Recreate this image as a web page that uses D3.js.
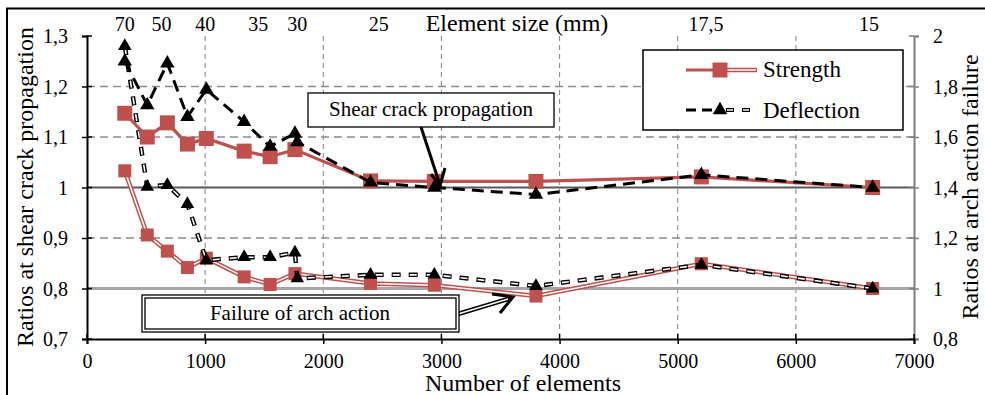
<!DOCTYPE html>
<html lang="en">
<head>
  <meta charset="UTF-8">
  <title>Ratios vs number of elements</title>
  <style>
    body { margin: 0; background: #fff; }
    text { font-family: "Liberation Serif", "Times New Roman", serif; fill: #000; }
  </style>
</head>
<body>
<script src="https://cdn.jsdelivr.net/npm/d3@7"></script>
<script>
  // data
  var elements = [320, 510, 680, 850, 1010, 1330, 1550, 1760, 2400, 2940, 3800, 5200, 6650];
  var strengthShear = [1.147, 1.100, 1.128, 1.086, 1.097, 1.072, 1.061, 1.075, 1.013, 1.012, 1.012, 1.021, 1.000];
  var strengthArch = [1.466, 1.212, 1.148, 1.083, 1.120, 1.046, 1.016, 1.059, 1.020, 1.013, 0.970, 1.098, 1.000];

  var deflElements = [320, 510, 680, 850, 1010, 1330, 1550, 1760, 1780, 2400, 2940, 3800, 5200, 6650];
  var deflShear = [1.250, 1.163, 1.246, 1.140, 1.194, 1.130, 1.081, 1.107, 1.090, 1.010, 1.000, 0.986, 1.025, 1.000];
  var deflArch = [1.960, 1.403, 1.410, 1.334, 1.112, 1.124, 1.124, 1.142, 1.040, 1.054, 1.054, 1.010, 1.094, 1.000];

  var sizeLabels = ['70', '50', '40', '35', '30', '25', '17,5', '15'];
  var sizeAt = [320, 630, 1000, 1450, 1780, 2470, 5240, 6620];

  var leftTicks = [0.7, 0.8, 0.9, 1.0, 1.1, 1.2, 1.3];
  var rightTicks = [0.8, 1.0, 1.2, 1.4, 1.6, 1.8, 2.0];
  var bottomTicks = [0, 1000, 2000, 3000, 4000, 5000, 6000, 7000];

  var red = '#c0504d';
  var W = 985, H = 395;

  var svg = d3.select('body').append('svg').attr('width', W).attr('height', H);

  var x = d3.scaleLinear().domain([0, 7000]).range([87, 914]);
  var yL = d3.scaleLinear().domain([0.7, 1.3]).range([339, 36]);
  var yR = d3.scaleLinear().domain([0.8, 2]).range([339, 36]);

  var comma = function (d) { return String(+d.toFixed(2)).replace('.', ','); };

  // outer frame
  svg.append('rect').attr('x', 7).attr('y', 8.5).attr('width', 1000).attr('height', 420)
    .attr('fill', 'none').attr('stroke', '#000').attr('stroke-width', 2);

  // grid
  svg.append('g').selectAll('line').data([0.9, 1.1, 1.2]).enter().append('line')
    .attr('x1', x(0)).attr('x2', x(7000))
    .attr('y1', function (d) { return yL(d); }).attr('y2', function (d) { return yL(d); })
    .attr('stroke', '#8c8c8c').attr('stroke-width', 1.3).attr('stroke-dasharray', '8,5');
  svg.append('g').selectAll('line').data([1000, 2000, 3000, 4000, 5000, 6000]).enter().append('line')
    .attr('x1', function (d) { return x(d); }).attr('x2', function (d) { return x(d); })
    .attr('y1', yL(1.3)).attr('y2', yL(0.7))
    .attr('stroke', '#8c8c8c').attr('stroke-width', 1.1).attr('stroke-dasharray', '5,4');

  // reference lines
  svg.append('line').attr('x1', x(0)).attr('x2', x(7000)).attr('y1', yL(1)).attr('y2', yL(1))
    .attr('stroke', '#595959').attr('stroke-width', 2);
  svg.append('line').attr('x1', x(0)).attr('x2', x(7000)).attr('y1', yL(0.8)).attr('y2', yL(0.8))
    .attr('stroke', '#a6a6a6').attr('stroke-width', 3);

  // axes
  function styleAxis(g, color) {
    g.select('.domain').attr('stroke', color).attr('stroke-width', 2);
    g.selectAll('.tick line').attr('stroke', color).attr('stroke-width', 1.5);
    g.selectAll('text').style('font-size', '20px').style('font-family', '"Liberation Serif", serif').attr('fill', '#000');
  }

  var gl = svg.append('g').attr('transform', 'translate(' + x(0) + ',0)');
  gl.call(d3.axisLeft(yL).tickValues(d3.range(0.7, 1.301, 0.02)).tickSize(-5).tickFormat(''));
  gl.call(d3.axisLeft(yL).tickValues(leftTicks).tickSize(5).tickPadding(14).tickFormat(comma));
  gl.call(function (g) { styleAxis(g, '#000'); });
  gl.selectAll('.tick text').attr('dy', '0.33em');
  gl.append('g').selectAll('line').data(leftTicks).enter().append('line')
    .attr('x1', 0).attr('x2', 5).attr('y1', function (d) { return yL(d); }).attr('y2', function (d) { return yL(d); })
    .attr('stroke', '#000').attr('stroke-width', 1.5);

  var gr = svg.append('g').attr('transform', 'translate(' + x(7000) + ',0)');
  gr.call(d3.axisRight(yR).tickValues(d3.range(0.8, 2.001, 0.04)).tickSize(-5).tickFormat(''));
  gr.call(d3.axisRight(yR).tickValues(rightTicks).tickSize(5).tickPadding(14).tickFormat(comma));
  gr.call(function (g) { styleAxis(g, '#7f7f7f'); });
  gr.selectAll('.tick text').attr('dy', '0.33em');
  gr.append('g').selectAll('line').data(rightTicks).enter().append('line')
    .attr('x1', -5).attr('x2', 0).attr('y1', function (d) { return yR(d); }).attr('y2', function (d) { return yR(d); })
    .attr('stroke', '#7f7f7f').attr('stroke-width', 1.5);

  var gb = svg.append('g').attr('transform', 'translate(0,' + yL(0.7) + ')');
  gb.call(d3.axisBottom(x).tickValues(d3.range(0, 7001, 200)).tickSize(-5).tickFormat(''));
  gb.call(d3.axisBottom(x).tickValues(bottomTicks).tickSize(5).tickPadding(10).tickFormat(d3.format('d')));
  gb.call(function (g) { styleAxis(g, '#000'); });
  gb.append('g').selectAll('line').data(bottomTicks).enter().append('line')
    .attr('x1', function (d) { return x(d); }).attr('x2', function (d) { return x(d); })
    .attr('y1', -5).attr('y2', 0).attr('stroke', '#000').attr('stroke-width', 1.5);

  // top labels (element size)
  svg.append('g').selectAll('text').data(sizeLabels).enter().append('text')
    .attr('x', function (d, i) { return x(sizeAt[i]); }).attr('y', 31)
    .attr('text-anchor', 'middle').style('font-size', '20px')
    .text(function (d) { return d; });
  svg.append('text').attr('x', 517).attr('y', 31).attr('text-anchor', 'middle')
    .style('font-size', '24px').text('Element size (mm)');

  // axis titles
  svg.append('text').attr('x', 523).attr('y', 391).attr('text-anchor', 'middle')
    .style('font-size', '24px').text('Number of elements');
  svg.append('text').attr('transform', 'translate(33,187) rotate(-90)').attr('text-anchor', 'middle')
    .style('font-size', '24px').text('Ratios at shear crack propagation');
  svg.append('text').attr('transform', 'translate(978,187) rotate(-90)').attr('text-anchor', 'middle')
    .style('font-size', '24px').text('Ratios at arch action failure');

  // series
  function pts(xs, ys) { return xs.map(function (v, i) { return [v, ys[i]]; }); }
  var lineL = d3.line().x(function (d) { return x(d[0]); }).y(function (d) { return yL(d[1]); });
  var lineR = d3.line().x(function (d) { return x(d[0]); }).y(function (d) { return yR(d[1]); });
  var tri = function (s) { return d3.symbol().type(d3.symbolTriangle).size(s)(); };

  var sArch = pts(elements, strengthArch);
  var dArch = pts(deflElements, deflArch);
  var sShear = pts(elements, strengthShear);
  var dShear = pts(deflElements, deflShear);

  // strength, arch action (hollow red)
  svg.append('path').attr('d', lineR(sArch)).attr('fill', 'none').attr('stroke', red).attr('stroke-width', 4.5);
  svg.append('path').attr('d', lineR(sArch)).attr('fill', 'none').attr('stroke', '#fff').attr('stroke-width', 1.5);
  svg.append('g').selectAll('rect').data(sArch).enter().append('rect')
    .attr('x', function (d) { return x(d[0]) - 6.5; }).attr('y', function (d) { return yR(d[1]) - 6.5; })
    .attr('width', 13).attr('height', 13).attr('fill', red);

  // deflection, arch action (hollow dashed)
  svg.append('path').attr('d', lineR(dArch)).attr('fill', 'none').attr('stroke', '#000')
    .attr('stroke-width', 4.5).attr('stroke-dasharray', '9,8');
  svg.append('path').attr('d', lineR(dArch)).attr('fill', 'none').attr('stroke', '#fff')
    .attr('stroke-width', 1.6).attr('stroke-dasharray', '7,10').attr('stroke-dashoffset', -1);
  svg.append('g').selectAll('path').data(dArch).enter().append('path')
    .attr('d', tri(80)).attr('fill', '#000')
    .attr('transform', function (d) { return 'translate(' + x(d[0]) + ',' + yR(d[1]) + ')'; });

  // strength, shear crack (solid red)
  svg.append('path').attr('d', lineL(sShear)).attr('fill', 'none').attr('stroke', red).attr('stroke-width', 3.2);
  svg.append('g').selectAll('rect').data(sShear).enter().append('rect')
    .attr('x', function (d) { return x(d[0]) - 7.5; }).attr('y', function (d) { return yL(d[1]) - 7.5; })
    .attr('width', 15).attr('height', 15).attr('fill', red);

  // deflection, shear crack (dashed black)
  svg.append('path').attr('d', lineL(dShear)).attr('fill', 'none').attr('stroke', '#000')
    .attr('stroke-width', 3).attr('stroke-dasharray', '12,7');
  svg.append('g').selectAll('path').data(dShear).enter().append('path')
    .attr('d', tri(90)).attr('fill', '#000')
    .attr('transform', function (d) { return 'translate(' + x(d[0]) + ',' + yL(d[1]) + ')'; });

  // legend
  var lg = svg.append('g');
  lg.append('rect').attr('x', 643).attr('y', 50).attr('width', 260).attr('height', 80)
    .attr('fill', '#fff').attr('stroke', '#000').attr('stroke-width', 1.5);
  lg.append('line').attr('x1', 686).attr('x2', 720).attr('y1', 70).attr('y2', 70).attr('stroke', red).attr('stroke-width', 3.2);
  lg.append('line').attr('x1', 720).attr('x2', 757).attr('y1', 70).attr('y2', 70).attr('stroke', red).attr('stroke-width', 4.5);
  lg.append('line').attr('x1', 720).attr('x2', 756).attr('y1', 70).attr('y2', 70).attr('stroke', '#fff').attr('stroke-width', 1.5);
  lg.append('rect').attr('x', 712.5).attr('y', 62.5).attr('width', 15).attr('height', 15).attr('fill', red);
  lg.append('text').attr('x', 763).attr('y', 77).style('font-size', '23px').text('Strength');

  lg.append('line').attr('x1', 686).attr('x2', 720).attr('y1', 110).attr('y2', 110).attr('stroke', '#000')
    .attr('stroke-width', 3).attr('stroke-dasharray', '10,6');
  lg.append('line').attr('x1', 726).attr('x2', 757).attr('y1', 110).attr('y2', 110).attr('stroke', '#000')
    .attr('stroke-width', 4).attr('stroke-dasharray', '8,8');
  lg.append('line').attr('x1', 726).attr('x2', 757).attr('y1', 110).attr('y2', 110).attr('stroke', '#fff')
    .attr('stroke-width', 1.5).attr('stroke-dasharray', '6,10').attr('stroke-dashoffset', -1);
  lg.append('path').attr('d', tri(90)).attr('fill', '#000').attr('transform', 'translate(720,110)');
  lg.append('text').attr('x', 763).attr('y', 118).style('font-size', '23px').text('Deflection');

  // annotation: shear crack propagation
  svg.append('line').attr('x1', 421).attr('y1', 127).attr('x2', 440).attr('y2', 185)
    .attr('stroke', '#000').attr('stroke-width', 3);
  svg.append('path').attr('d', 'M431,174 L440,186 L445,168').attr('fill', 'none')
    .attr('stroke', '#000').attr('stroke-width', 3);
  svg.append('rect').attr('x', 308).attr('y', 93).attr('width', 246).attr('height', 34)
    .attr('fill', '#fff').attr('stroke', '#000').attr('stroke-width', 1.3);
  svg.append('text').attr('x', 431).attr('y', 116).attr('text-anchor', 'middle')
    .style('font-size', '21px').text('Shear crack propagation');

  // annotation: failure of arch action
  svg.append('line').attr('x1', 458).attr('y1', 314).attr('x2', 511).attr('y2', 298)
    .attr('stroke', '#000').attr('stroke-width', 4.5);
  svg.append('line').attr('x1', 458).attr('y1', 314).attr('x2', 508).attr('y2', 299)
    .attr('stroke', '#fff').attr('stroke-width', 1.5);
  svg.append('path').attr('d', 'M492,294 L513,297 L500,313').attr('fill', 'none')
    .attr('stroke', '#000').attr('stroke-width', 3);
  svg.append('rect').attr('x', 142).attr('y', 295).attr('width', 317).attr('height', 37)
    .attr('fill', '#fff').attr('stroke', '#000').attr('stroke-width', 1.3);
  svg.append('rect').attr('x', 145).attr('y', 298).attr('width', 311).attr('height', 31)
    .attr('fill', '#fff').attr('stroke', '#000').attr('stroke-width', 1.3);
  svg.append('text').attr('x', 300).attr('y', 320).attr('text-anchor', 'middle')
    .style('font-size', '21px').text('Failure of arch action');
</script>
</body>
</html>
